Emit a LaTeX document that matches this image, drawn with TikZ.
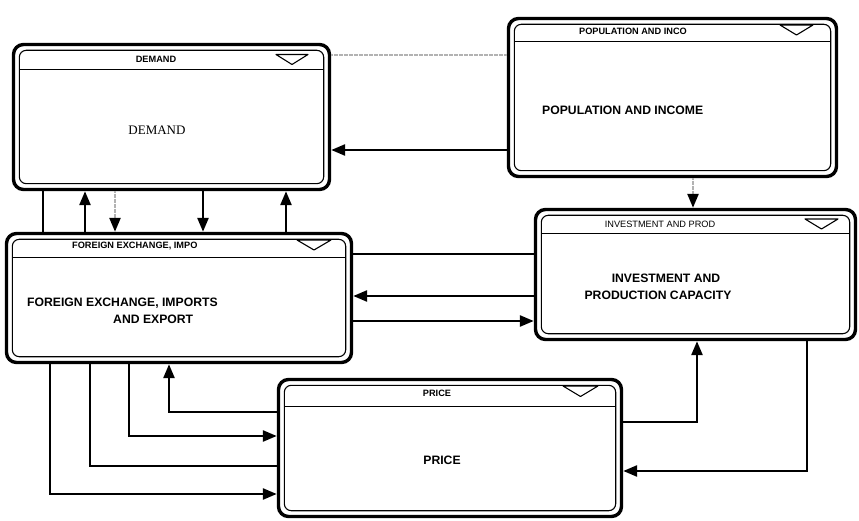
\documentclass[tikz,border=0pt]{standalone}
\usepackage{fontspec}
\setmainfont{Liberation Serif}
\newfontfamily\arial{Liberation Sans}
\usetikzlibrary{arrows.meta,calc}
\tikzset{
  modbox/.style={draw, line width=3.4pt, rounded corners=10pt, inner sep=0pt},
  innerline/.style={line width=1.1pt, rounded corners=7pt},
  sepline/.style={line width=1pt},
  tri/.style={line width=1.1pt, line join=round},
  ttl/.style={font=\arial\bfseries\fontsize{9.2}{10}\selectfont, inner sep=0pt},
  mtxt/.style={font=\arial\bfseries\fontsize{12.2}{15}\selectfont, inner sep=0pt},
  stxt/.style={font=\fontsize{13}{15}\selectfont, inner sep=0pt},
  conn/.style={line width=2.6pt},
  gconn/.style={line width=2.4pt, draw=gray!60, dash pattern=on 2pt off 0.5pt},
  >={Triangle[length=14pt,width=11pt]},
}
\newcommand{\boxdeco}[2]{%
  \draw[innerline] ($(#1.north west)+(7.5,7.5)$) rectangle ($(#1.south east)+(-7.5,-7.5)$);
  \draw[sepline] ($(#1.west |- 0,#2)+(7.5,0)$) -- ($(#1.east |- 0,#2)+(-7.5,0)$);
}
\begin{document}
\begin{tikzpicture}[x=1pt,y=-1pt]
\useasboundingbox (0,0) rectangle (859,521);
% boxes
\node[modbox, minimum width=316pt, minimum height=145pt] (dem) at (171.5,117) {};
\node[modbox, minimum width=328pt, minimum height=158pt] (pop) at (672.5,97.5) {};
\node[modbox, minimum width=345pt, minimum height=129pt] (for) at (179,298) {};
\node[modbox, minimum width=320pt, minimum height=130pt] (inv) at (695.5,274.5) {};
\node[modbox, minimum width=343pt, minimum height=137pt] (pri) at (450,448) {};
\boxdeco{dem}{70}
\boxdeco{pop}{42}
\boxdeco{for}{258}
\boxdeco{inv}{234}
\boxdeco{pri}{406}
% title triangles
\draw[tri] (276,54.5) -- (308,54.5) -- (292,64.5) -- cycle;
\draw[tri] (780,25) -- (813,25) -- (796.5,35) -- cycle;
\draw[tri] (297,240) -- (331,240) -- (314,250) -- cycle;
\draw[tri] (805,219) -- (838,219) -- (821.5,229) -- cycle;
\draw[tri] (563,386) -- (598,386) -- (580.5,396.5) -- cycle;
% titles
\node[ttl] (demt) at (156,59) {DEMAND};
\node[ttl] (popt) at (633,31) {POPULATION AND INCO};
\node[ttl, anchor=west] (fort) at (72,246) {FOREIGN EXCHANGE, IMPO};
\node[ttl, font=\arial\fontsize{9.2}{10}\selectfont] (invt) at (660,224) {INVESTMENT AND PROD};
\node[ttl] (prit) at (437,393) {PRICE};
% main texts
\node[stxt] (demm) at (157,130) {DEMAND};
\node[mtxt, anchor=west] (popm) at (542,110) {POPULATION AND INCOME};
\node[mtxt, anchor=west] (form1) at (27,303) {FOREIGN EXCHANGE, IMPORTS};
\node[mtxt, anchor=west] (form2) at (113,319) {AND EXPORT};
\node[mtxt] (invm1) at (666,278) {INVESTMENT AND};
\node[mtxt] (invm2) at (658,295) {PRODUCTION CAPACITY};
\node[mtxt] (prim) at (442,460) {PRICE};
% connectors
\draw[gconn] (dem.east |- 0,55) -- (pop.west |- 0,55);
\draw[conn,->] (pop.west |- 0,150) -- (dem.east |- 0,150);
\draw[gconn,-{Triangle[length=14pt,width=11pt,color=black]}] (pop.south -| 693,0) -- (inv.north -| 693,0);
\draw[conn] (dem.south -| 43,0) -- (for.north -| 43,0);
\draw[conn,->] (for.north -| 85,0) -- (dem.south -| 85,0);
\draw[gconn,-{Triangle[length=14pt,width=11pt,color=black]}] (dem.south -| 115,0) -- (for.north -| 115,0);
\draw[conn,->] (dem.south -| 203,0) -- (for.north -| 203,0);
\draw[conn,->] (for.north -| 286,0) -- (dem.south -| 286,0);
\draw[conn] (for.east |- 0,254) -- (inv.west |- 0,254);
\draw[conn,->] (inv.west |- 0,296) -- (for.east |- 0,296);
\draw[conn,->] (for.east |- 0,321) -- (inv.west |- 0,321);
\draw[conn,->] (for.south -| 50,0) |- (pri.west |- 0,494);
\draw[conn] (for.south -| 90,0) |- (pri.west |- 0,466);
\draw[conn,->] (for.south -| 129,0) |- (pri.west |- 0,436);
\draw[conn,->] (pri.west |- 0,412) -| (for.south -| 169,0);
\draw[conn,->] (pri.east |- 0,422) -| (inv.south -| 697,0);
\draw[conn,->] (inv.south -| 807,0) |- (pri.east |- 0,471);
\end{tikzpicture}
\end{document}
